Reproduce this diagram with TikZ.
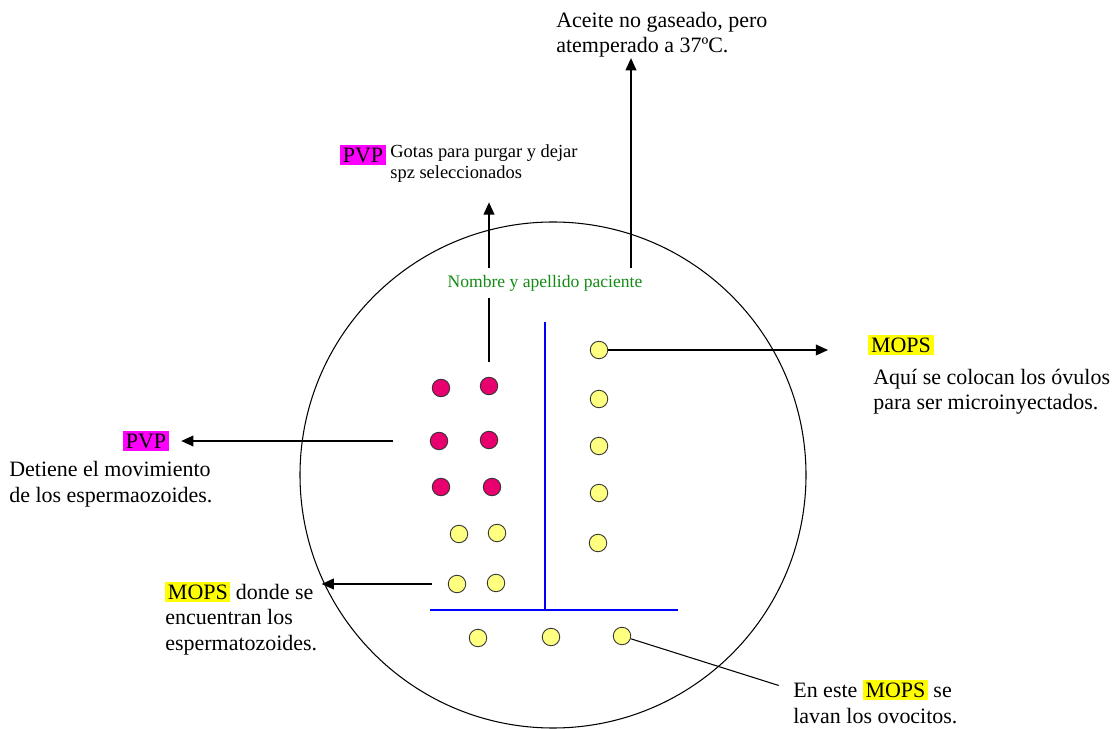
\documentclass[tikz,border=0pt]{standalone}
\usepackage{fontspec}
\setmainfont{Liberation Serif}
\usetikzlibrary{arrows.meta,positioning}
\definecolor{rosa}{RGB}{232,0,110}
\definecolor{amarillo}{RGB}{255,255,128}
\definecolor{verde}{RGB}{20,140,20}
\definecolor{fucsia}{RGB}{255,0,255}
\definecolor{limon}{RGB}{255,255,0}
\definecolor{azul}{RGB}{0,0,255}
\newcommand{\marca}[2]{{\setlength{\fboxsep}{1.5pt}\colorbox{#1}{#2}}}

\begin{document}
\begin{tikzpicture}[x=0.02cm, y=-0.02cm,
    puntoR/.style = {circle, draw=black!80, fill=rosa, minimum size=0.35cm, inner sep=0pt, line width=0.5pt},
    puntoA/.style = {circle, draw=black!80, fill=amarillo, minimum size=0.35cm, inner sep=0pt, line width=0.5pt},
    texto/.style = {font=\fontsize{12.5}{14.5}\selectfont, align=left, inner sep=0pt, anchor=base west},
    resalte/.style = {font=\fontsize{12.5}{14.5}\selectfont, inner sep=1.5pt, fill=#1},
    flecha/.style = {line width=1.2pt, -{Triangle[length=7pt,width=6pt]}}]
    \useasboundingbox (0,0) rectangle (1116,729);

    \draw[line width=0.6pt] (553,475) circle [radius=253];
    \draw[azul, line width=1.2pt] (545,322) -- (545,610);
    \draw[azul, line width=1.2pt] (430,610) -- (678,610);

    \foreach \n/\x/\y in {m1/441/388, m2/489/386, m3/439/441, m4/489/440, m5/441/487, m6/492/487}
        \node[puntoR] (\n) at (\x,\y) {};
    \foreach \n/\x/\y in {y1/459/534, y2/497/533, y3/457/584, y4/496/583,
                          d1/599/350, d2/599/399, d3/599/446, d4/599/493, d5/598/543,
                          b1/478/638, b2/551/637, b3/622/636}
        \node[puntoA] (\n) at (\x,\y) {};

    \node[texto] (aceite) at (556,53) {Aceite no gaseado, pero\\atemperado a 37ºC.};
    \node[resalte=fucsia] (pvpA) at (363,155) {PVP};
    \node[texto, font=\fontsize{10.5}{12}\selectfont] (gotas) at (390,179) {Gotas para purgar y dejar\\spz seleccionados};
    \node[font=\fontsize{10}{12}\selectfont, text=verde, fill=white, minimum height=0.6cm] (nombre) at (545,283) {Nombre y apellido paciente};
    \node[resalte=limon] (mopsD) at (901,345) {MOPS};
    \node[texto] (aqui) at (873,410) {Aquí se colocan los óvulos\\para ser microinyectados.};
    \node[resalte=fucsia] (pvpI) at (146,441) {PVP};
    \node[texto] (detiene) at (9,502) {Detiene el movimiento\\de los espermaozoides.};
    \node[texto] (mopsI) at (165,650) {\marca{limon}{MOPS} donde se\\encuentran los\\espermatozoides.};
    \node[texto] (enEste) at (793,723) {En este \marca{limon}{MOPS} se\\lavan los ovocitos.};

    \draw[line width=1.2pt, shorten <=0.3cm] (m2) -- (nombre.south -| m2);
    \draw[flecha, shorten >=0.38cm] (nombre.north -| m2) -- (gotas.south -| m2);
    \draw[flecha] (nombre.north -| 631,0) -- (aceite.south -| 631,0);
    \draw[flecha, shorten >=0.8cm] (d1) -- (d1 -| mopsD.west);
    \draw[flecha, shorten <=0.74cm, shorten >=0.24cm] (m3) -- (m3 -| pvpI.east);
    \draw[flecha, shorten <=0.32cm, shorten >=0.08cm] (y3) -- (y3 -| mopsI.east);
    \draw[line width=0.6pt, shorten >=0.3cm] (b3) -- ([yshift=-0.2cm]enEste.north west);
\end{tikzpicture}
\end{document}
